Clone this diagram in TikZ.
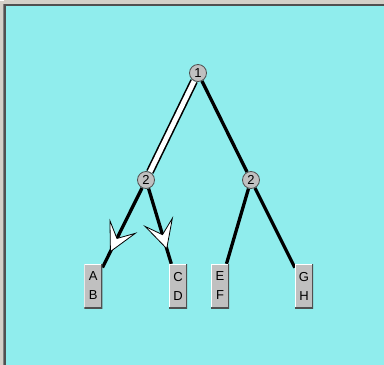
\documentclass[tikz,border=0pt]{standalone}
\usepackage{fontspec}
\setmainfont{Liberation Sans}
\usetikzlibrary{arrows.meta,decorations.markings}
\pgfdeclarelayer{bgfill}
\pgfdeclarelayer{edges}
\pgfsetlayers{bgfill,edges,main}
\definecolor{cyanbg}{RGB}{144,237,237}
\definecolor{wingray}{RGB}{212,208,200}
\definecolor{nodegray}{RGB}{192,192,192}
\definecolor{darkedge}{RGB}{80,80,80}
\tikzset{
  treenode/.style={circle, minimum size=17pt, inner sep=0pt, fill=nodegray,
    draw=darkedge, line width=0.8pt, font=\fontsize{13}{13}\selectfont},
  leafbox/.style={rectangle, minimum width=18pt, minimum height=44pt, inner sep=0pt,
    fill=nodegray, align=center, font=\fontsize{13}{19}\selectfont,
    path picture={
      \draw[white, line width=2pt] (path picture bounding box.south west) |- (path picture bounding box.north east);
      \draw[darkedge, line width=3pt] (path picture bounding box.north east) |- (path picture bounding box.south west);
    }},
  branch/.style={line width=3.3pt, black},
  hilite/.style={line width=1.6pt, black, double=white, double distance=4.8pt},
  arrowed/.style={branch, postaction={decorate}, decoration={markings,
    mark=at position 0.81 with {\arrow{Stealth[length=30pt, width=31pt, inset=14pt, fill=white, line width=0.8pt]}}}}
}
\begin{document}
\begin{tikzpicture}[x=1pt, y=-1pt]
\useasboundingbox (0,0) rectangle (384,365);
\begin{pgfonlayer}{bgfill}
  \fill[wingray] (0,0) rectangle (384,365);
  \fill[cyanbg] (6,6) rectangle (384,365);
  \fill[darkedge] (4,4) rectangle (384,6);
  \fill[darkedge] (4,4) rectangle (6,365);
  \fill[gray] (3,4) rectangle (4,365);
  \fill[white] (0,0) rectangle (4,1);
\end{pgfonlayer}
\node[treenode] (c1) at (198,73) {1};
\node[treenode] (l2) at (146,180) {2};
\node[treenode] (r2) at (251,180) {2};
\node[leafbox] (ab) at (93.3,286) {A\\B};
\node[leafbox] (cd) at (178,286) {C\\D};
\node[leafbox] (ef) at (220,286) {E\\F};
\node[leafbox] (gh) at (304,286) {G\\H};
\begin{pgfonlayer}{edges}
  \draw[hilite] (c1) -- (l2);
  \draw[branch] (c1) -- (r2);
  \draw[arrowed] (l2) -- (ab);
  \draw[arrowed] (l2) -- (cd);
  \draw[branch] (r2) -- (ef);
  \draw[branch] (r2) -- (gh);
\end{pgfonlayer}
\end{tikzpicture}
\end{document}
